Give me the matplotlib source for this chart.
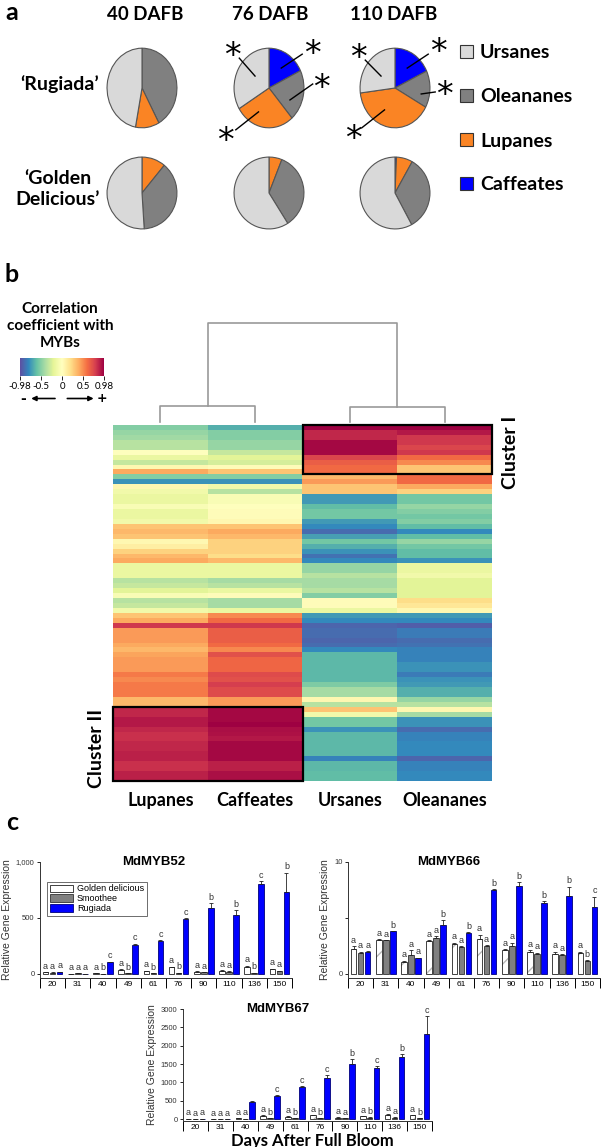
import numpy as np
import matplotlib
matplotlib.use('Agg')
import matplotlib.pyplot as plt
from matplotlib.patches import Rectangle
from matplotlib.cm import ScalarMappable
from matplotlib.colors import Normalize

W, H = 602, 1147

# ---------------- data ----------------
# panel a: triterpene composition (%), order Ursanes, Oleananes, Lupanes, Caffeates
comp_names = ['Ursanes', 'Oleananes', 'Lupanes', 'Caffeates']
comp_colors = ['#d9d9d9', '#808080', '#fa8424', '#0000ff']
dafb_titles = ['40 DAFB', '76 DAFB', '110 DAFB']
rugiada_40 = [47, 42, 11, 0]
rugiada_76 = [34, 21, 28, 18]
rugiada_110 = [27, 15, 40, 18]
golden_40 = [51, 38, 11, 0]
golden_76 = [59, 35, 6, 0]
golden_110 = [58, 34, 7.5, 0.7]

# panel b: correlation of MYBs with compound classes
heat_cols = ['Lupanes', 'Caffeates', 'Ursanes', 'Oleananes']
corr_rows = [
    [-0.50, -0.65, 0.98, 0.98],
    [-0.45, -0.50, 0.85, 0.90],
    [-0.42, -0.50, 0.85, 0.80],
    [-0.35, -0.45, 0.95, 0.80],
    [-0.35, -0.45, 0.95, 0.75],
    [0.00, -0.30, 0.95, 0.80],
    [-0.15, -0.20, 0.75, 0.60],
    [-0.30, -0.25, 0.65, 0.50],
    [0.05, 0.02, 0.60, 0.30],
    [0.40, 0.30, 0.60, 0.30],
    [-0.50, -0.50, 0.35, 0.60],
    [-0.75, -0.75, 0.45, 0.60],
    [0.05, -0.10, 0.30, 0.40],
    [-0.10, -0.35, 0.30, 0.25],
    [-0.15, -0.05, -0.72, -0.55],
    [-0.15, -0.05, -0.72, -0.55],
    [-0.05, 0.00, -0.60, -0.45],
    [-0.15, 0.02, -0.55, -0.50],
    [-0.15, 0.02, -0.55, -0.55],
    [-0.10, 0.05, -0.72, -0.50],
    [0.30, 0.30, -0.78, -0.60],
    [0.35, 0.40, -0.88, -0.78],
    [0.30, 0.35, -0.70, -0.60],
    [0.05, 0.25, -0.55, -0.45],
    [0.10, 0.25, -0.65, -0.55],
    [0.25, 0.25, -0.75, -0.60],
    [0.35, 0.20, -0.85, -0.60],
    [0.40, 0.35, -0.78, -0.75],
    [-0.15, -0.15, -0.45, -0.15],
    [-0.15, -0.15, -0.45, -0.15],
    [-0.15, -0.15, -0.35, -0.10],
    [-0.35, -0.40, -0.40, -0.20],
    [-0.30, -0.35, -0.40, -0.20],
    [-0.20, -0.15, -0.35, -0.20],
    [-0.05, 0.02, -0.50, -0.20],
    [-0.35, -0.40, 0.02, 0.20],
    [-0.30, -0.40, 0.02, 0.15],
    [-0.10, -0.15, -0.15, 0.05],
    [0.30, 0.50, -0.72, -0.72],
    [0.40, 0.60, -0.78, -0.78],
    [0.80, 0.80, -0.90, -0.92],
    [0.45, 0.65, -0.88, -0.82],
    [0.45, 0.65, -0.88, -0.82],
    [0.45, 0.65, -0.90, -0.88],
    [0.40, 0.60, -0.88, -0.85],
    [0.35, 0.50, -0.78, -0.80],
    [0.42, 0.70, -0.62, -0.80],
    [0.45, 0.62, -0.62, -0.80],
    [0.45, 0.62, -0.62, -0.75],
    [0.45, 0.62, -0.62, -0.75],
    [0.55, 0.72, -0.62, -0.82],
    [0.50, 0.70, -0.62, -0.75],
    [0.55, 0.78, -0.52, -0.72],
    [0.55, 0.72, -0.40, -0.65],
    [0.55, 0.72, -0.40, -0.65],
    [0.35, 0.45, 0.05, -0.45],
    [0.35, 0.45, -0.35, -0.35],
    [0.85, 0.95, 0.30, 0.05],
    [0.85, 0.95, -0.10, -0.40],
    [0.90, 0.95, -0.55, -0.75],
    [0.90, 0.98, -0.55, -0.75],
    [0.85, 0.93, -0.75, -0.88],
    [0.82, 0.92, -0.62, -0.80],
    [0.82, 0.90, -0.62, -0.80],
    [0.85, 0.95, -0.62, -0.78],
    [0.85, 0.95, -0.62, -0.78],
    [0.88, 0.95, -0.62, -0.78],
    [0.88, 0.95, -0.80, -0.90],
    [0.82, 0.88, -0.62, -0.80],
    [0.82, 0.88, -0.62, -0.80],
    [0.88, 0.93, -0.60, -0.78],
    [0.88, 0.93, -0.60, -0.78],
]
cluster1_rows = 10
cluster2_rows = 15
# dendrogram merge heights (left pair, right pair, root)
link_heights = [0.16, 0.15, 1.0]
cbar_ticks = [-0.98, -0.5, 0, 0.5, 0.98]

# panel c: relative expression
days = [20, 31, 40, 49, 61, 76, 90, 110, 136, 150]
myb52_gd = [15, 3, 5, 35, 25, 60, 20, 30, 60, 45]
myb52_sm = [12, 5, 3, 8, 8, 10, 15, 20, 10, 25]
myb52_ru = [18, 3, 105, 255, 295, 495, 590, 525, 800, 735]
myb52_gd_err = [3, 1, 1, 6, 4, 6, 3, 5, 15, 3]
myb52_sm_err = [2, 1, 1, 2, 2, 2, 3, 4, 2, 5]
myb52_ru_err = [2, 1, 4, 15, 10, 6, 40, 45, 30, 170]
myb52_letters = ['aaa', 'aaa', 'abc', 'abc', 'abc', 'abc', 'aab', 'aab', 'abc', 'aab']

myb66_gd = [2.2, 3.0, 1.1, 2.9, 2.7, 3.1, 2.1, 2.0, 1.8, 1.9]
myb66_sm = [1.9, 3.0, 1.7, 3.2, 2.4, 2.5, 2.5, 1.8, 1.7, 1.2]
myb66_ru = [2.0, 3.8, 1.4, 4.4, 3.7, 7.5, 7.9, 6.3, 7.0, 6.0]
myb66_gd_err = [0.3, 0.1, 0.1, 0.1, 0.1, 0.4, 0.1, 0.1, 0.2, 0.1]
myb66_sm_err = [0.1, 0.05, 0.4, 0.2, 0.1, 0.05, 0.3, 0.1, 0.1, 0.05]
myb66_ru_err = [0.05, 0.05, 0.05, 0.4, 0.05, 0.1, 0.3, 0.2, 0.8, 0.9]
myb66_letters = ['aaa', 'aab', 'aaa', 'aab', 'aab', 'aab', 'aab', 'aab', 'aab', 'abc']

myb67_gd = [10, 5, 20, 90, 60, 100, 40, 80, 110, 100]
myb67_sm = [8, 3, 10, 20, 25, 20, 20, 40, 40, 20]
myb67_ru = [10, 5, 470, 630, 860, 1130, 1500, 1390, 1680, 2330]
myb67_gd_err = [3, 2, 5, 15, 10, 15, 8, 10, 20, 15]
myb67_sm_err = [2, 1, 3, 5, 5, 5, 5, 8, 8, 5]
myb67_ru_err = [3, 1, 25, 20, 40, 70, 130, 60, 90, 480]
myb67_letters = ['aaa', 'aaa', 'aa ', 'abc', 'abc', 'abc', 'aab', 'abc', 'aab', 'abc']

# ---------------- helpers ----------------
fig = plt.figure(figsize=(W / 100, H / 100), dpi=100)
BOLD = 'Lato'
SANS = 'Liberation Sans'


def add_ax(x0, y0, x1, y1):
    return fig.add_axes([x0 / W, 1 - y1 / H, (x1 - x0) / W, (y1 - y0) / H])


def ftext(x, y, s, **kw):
    return fig.text(x / W, 1 - y / H, s, **kw)


# ---------------- panel a ----------------
ftext(12, 13, 'a', fontsize=18, weight='bold', family=BOLD, ha='center', va='center')
for xc, t in zip([145, 270, 394], dafb_titles):
    ftext(xc, 15, t, fontsize=13.5, weight='bold', family=BOLD, ha='center', va='center')
ftext(60, 84, '\u2018Rugiada\u2019', fontsize=14, weight='bold', family=BOLD, ha='center', va='center')
ftext(58, 189, '\u2018Golden\nDelicious\u2019', fontsize=14, weight='bold', family=BOLD,
      ha='center', va='center', linespacing=1.35)

rug_order = [3, 1, 2, 0]   # clockwise from 12 o'clock
gd_order = [3, 2, 1, 0]


def draw_pie(cx, cy, w, h, vals, order):
    ax = add_ax(cx - w / 2, cy - h / 2, cx + w / 2, cy + h / 2)
    v = [vals[i] for i in order if vals[i] > 0]
    c = [comp_colors[i] for i in order if vals[i] > 0]
    ax.pie(v, colors=c, startangle=90, counterclock=False,
           wedgeprops=dict(edgecolor='#555555', linewidth=0.8))
    ax.set_aspect('auto')
    ax.set_xlim(-1.03, 1.03)
    ax.set_ylim(-1.03, 1.03)
    return ax


pie_x = [142, 269, 395]
top = [draw_pie(x, 88, 72, 82, v, rug_order)
       for x, v in zip(pie_x, [rugiada_40, rugiada_76, rugiada_110])]
for x, v in zip(pie_x, [golden_40, golden_76, golden_110]):
    draw_pie(x, 193, 72, 74, v, gd_order)


def star(ax, inner, outer, pos):
    ax.plot([inner[0], outer[0]], [inner[1], outer[1]], color='black', lw=1.0, clip_on=False)
    ax.text(pos[0], pos[1], '*', fontsize=24, family='DejaVu Sans', ha='center', va='center',
            clip_on=False)


star(top[1], (-0.4, 0.3), (-0.85, 0.75), (-1.05, 0.8))
star(top[1], (0.35, 0.5), (0.95, 0.85), (1.25, 0.85))
star(top[1], (0.6, -0.3), (1.25, 0.1), (1.5, 0.0))
star(top[1], (-0.3, -0.6), (-0.95, -1.05), (-1.25, -1.35))
star(top[2], (-0.4, 0.3), (-0.85, 0.7), (-1.05, 0.75))
star(top[2], (0.35, 0.5), (0.95, 0.85), (1.25, 0.9))
star(top[2], (0.75, -0.15), (1.15, -0.1), (1.4, -0.2))
star(top[2], (-0.3, -0.55), (-0.95, -1.0), (-1.2, -1.3))

leg_y = [52, 96, 140, 184]
for name, col, y in zip(comp_names, comp_colors, leg_y):
    fig.add_artist(Rectangle(((460) / W, 1 - (y + 6) / H), 13 / W, 13 / H, facecolor=col,
                             edgecolor='#333333', lw=0.8, transform=fig.transFigure))
    ftext(480, y + 1, name, fontsize=14, weight='bold', family=BOLD, ha='left', va='center')

# ---------------- panel b ----------------
ftext(12, 275, 'b', fontsize=18, weight='bold', family=BOLD, ha='center', va='center')
ftext(60, 326, 'Correlation\ncoefficient with\nMYBs', fontsize=11, weight='bold', family=BOLD,
      ha='center', va='center', linespacing=1.25)

cmap = plt.get_cmap('Spectral_r')
norm = Normalize(-0.98, 0.98)
cax = add_ax(20, 358, 104, 376)
cb = fig.colorbar(ScalarMappable(norm=norm, cmap=cmap), cax=cax, orientation='horizontal')
cb.set_ticks(cbar_ticks)
cb.set_ticklabels(['-0.98', '-0.5', '0', '0.5', '0.98'])
cb.outline.set_visible(False)
cax.tick_params(labelsize=7, length=3, width=0.6, pad=1)
for lab in cax.get_xticklabels():
    lab.set_family(BOLD)
cax.annotate('', xy=(0.1, -1.25), xytext=(0.45, -1.25), xycoords='axes fraction',
             arrowprops=dict(arrowstyle='-|>', lw=1.2, color='black', mutation_scale=7))
cax.annotate('', xy=(0.91, -1.25), xytext=(0.53, -1.25), xycoords='axes fraction',
             arrowprops=dict(arrowstyle='-|>', lw=1.2, color='black', mutation_scale=7))
cax.text(0.04, -1.25, '-', transform=cax.transAxes, fontsize=10, weight='bold', ha='center', va='center')
cax.text(0.98, -1.25, '+', transform=cax.transAxes, fontsize=9, weight='bold', ha='center', va='center')

corr = np.array(corr_rows)
n_rows = corr.shape[0]
hax = add_ax(113, 425, 492, 781)
hax.imshow(corr, cmap=cmap, norm=norm, aspect='auto', interpolation='nearest')
hax.add_patch(Rectangle((1.5, -0.5), 2, cluster1_rows, fill=False, lw=1.6, edgecolor='black',
                        clip_on=False))
hax.add_patch(Rectangle((-0.5, n_rows - cluster2_rows - 0.5), 2, cluster2_rows, fill=False,
                        lw=1.6, edgecolor='black', clip_on=False))
hax.set_xticks(range(4))
hax.set_xticklabels(heat_cols, fontsize=13, weight='bold', family=BOLD)
hax.tick_params(axis='x', length=0, pad=8)
hax.set_yticks([])
for s in hax.spines.values():
    s.set_visible(False)
ftext(510, 452, 'Cluster I', fontsize=14, weight='bold', family=BOLD, rotation=90,
      ha='center', va='center')
ftext(96, 748, 'Cluster II', fontsize=14, weight='bold', family=BOLD, rotation=90,
      ha='center', va='center')

dax = add_ax(113, 320, 492, 423)
dax.set_xlim(-0.5, 3.5)
dax.set_ylim(-0.013, 1.03)
dax.axis('off')
dc = '#999999'
hl, hr, hroot = link_heights
dax.plot([0, 0, 1, 1], [0, hl, hl, 0], color=dc, lw=1.2)
dax.plot([2, 2, 3, 3], [0, hr, hr, 0], color=dc, lw=1.2)
dax.plot([0.5, 0.5, 2.5, 2.5], [hl, hroot, hroot, hr], color=dc, lw=1.2)

# ---------------- panel c ----------------
ftext(12, 822, 'c', fontsize=18, weight='bold', family=BOLD, ha='center', va='center')


def bar_panel(ax, gd, sm, ru, gd_e, sm_e, ru_e, letters, ylim, yticks, ylabels, title, tx):
    x = np.arange(len(days))
    w, off = 0.22, 0.28
    z = np.zeros(len(days))
    ax.bar(x - off, gd, w, color='white', edgecolor='#b8b8b8', hatch='/', lw=0)
    ax.bar(x - off, gd, w, fill=False, edgecolor='#222222', lw=0.6)
    ax.bar(x, sm, w, color='#808080', edgecolor='#333333', lw=0.6)
    ax.bar(x + off, ru, w, color='#0000ff', edgecolor='#00007a', lw=0.6)
    for xs, v, e in [(x - off, gd, gd_e), (x, sm, sm_e), (x + off, ru, ru_e)]:
        ax.errorbar(xs, v, yerr=[z, e], fmt='none', ecolor='#222222', elinewidth=0.6,
                    capsize=1.5, capthick=0.6)
    pad = (ylim[1] - ylim[0]) * 0.05
    for i in range(len(days)):
        for j, (xs, v, e) in enumerate([(x - off, gd, gd_e), (x, sm, sm_e), (x + off, ru, ru_e)]):
            ax.text(xs[i], v[i] + e[i] + pad, letters[i][j], fontsize=6.5, color='#333333',
                    family=SANS, ha='center', va='center')
    ax.set_xlim(-0.5, len(days) - 0.5)
    ax.set_ylim(*ylim)
    ax.set_xticks(x)
    ax.set_xticklabels([str(d) for d in days], fontsize=6, family=SANS)
    ax.set_xticks(np.arange(-0.5, len(days), 1), minor=True)
    ax.tick_params(axis='x', which='major', length=0, pad=2)
    ax.tick_params(axis='x', which='minor', length=7, width=0.7, direction='out')
    ax.set_yticks(yticks)
    ax.set_yticklabels(ylabels, fontsize=5.5, family=SANS, color='#333333')
    ax.tick_params(axis='y', length=2.5, width=0.6, pad=1.5)
    for s in ['top', 'right']:
        ax.spines[s].set_visible(False)
    for s in ['left', 'bottom']:
        ax.spines[s].set_linewidth(0.7)
        ax.spines[s].set_color('#333333')
    ax.set_ylabel('Relative Gene Expression', fontsize=7.5, family=SANS, color='#333333',
                  labelpad=3)
    ax.text(tx, 1.0, title, transform=ax.transAxes, fontsize=9.5, weight='bold', family=SANS,
            ha='center', va='center')


ax52 = add_ax(40, 862, 292, 978)
bar_panel(ax52, myb52_gd, myb52_sm, myb52_ru, myb52_gd_err, myb52_sm_err, myb52_ru_err,
          myb52_letters, (-36, 1000), [0, 500, 1000], ['0', '500', '1,000'], 'MdMYB52', 0.45)
handles = [Rectangle((0, 0), 1, 1, facecolor='white', edgecolor='#222222', hatch='/', lw=0.6),
           Rectangle((0, 0), 1, 1, facecolor='#808080', edgecolor='#333333', lw=0.6),
           Rectangle((0, 0), 1, 1, facecolor='#0000ff', edgecolor='#00007a', lw=0.6)]
leg = ax52.legend(handles, ['Golden delicious', 'Smoothee', 'Rugiada'], loc='upper left',
                  bbox_to_anchor=(0.028, 0.83), borderaxespad=0, fancybox=False,
                  prop=dict(family=SANS, size=6.5), handlelength=2.6, handleheight=0.9,
                  labelspacing=0.1, borderpad=0.3, handletextpad=0.4, framealpha=1)
leg.get_frame().set_edgecolor('#555555')
leg.get_frame().set_linewidth(0.6)

ax66 = add_ax(348, 862, 600, 978)
bar_panel(ax66, myb66_gd, myb66_sm, myb66_ru, myb66_gd_err, myb66_sm_err, myb66_ru_err,
          myb66_letters, (-0.36, 10), [0, 5, 10], ['0', '', '10'], 'MdMYB66', 0.4)

ax67 = add_ax(183, 1009, 432, 1121)
bar_panel(ax67, myb67_gd, myb67_sm, myb67_ru, myb67_gd_err, myb67_sm_err, myb67_ru_err,
          myb67_letters, (-54, 3000), list(range(0, 3001, 500)),
          [str(v) for v in range(0, 3001, 500)], 'MdMYB67', 0.38)
ftext(312, 1141, 'Days After Full Bloom', fontsize=12, weight='bold', family=BOLD,
      ha='center', va='center')

fig.savefig('out.png', dpi=100)
